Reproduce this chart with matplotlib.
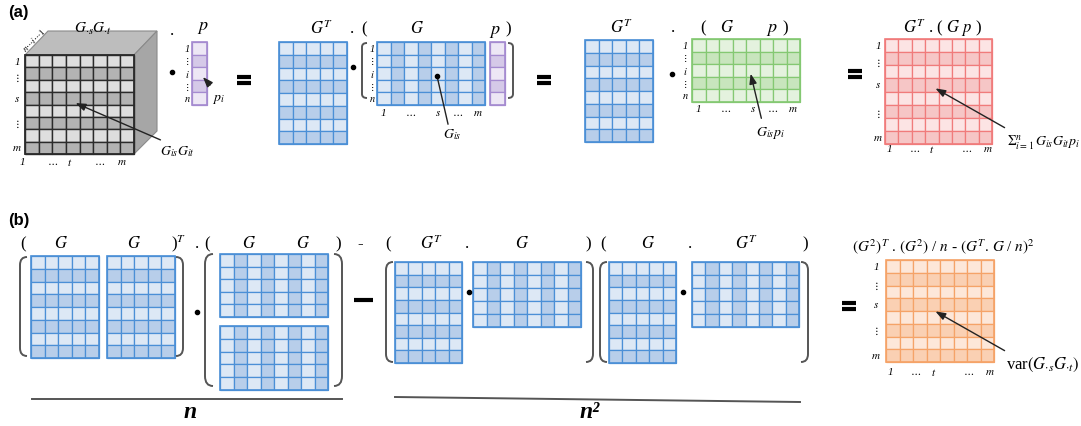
import numpy as np
import matplotlib
matplotlib.use("Agg")
import matplotlib.pyplot as plt
from matplotlib.patches import Rectangle, Polygon, PathPatch
from matplotlib.path import Path

plt.rcParams['font.family'] = 'serif'
plt.rcParams['font.serif'] = ['Liberation Serif', 'DejaVu Serif']
plt.rcParams['mathtext.fontset'] = 'stix'

# shading patterns (1 = darker cell)
rows8 = [0, 1, 0, 1, 0, 1, 0, 1]
cols8 = [0, 1, 0, 1, 0, 1, 0, 1]
rows5 = [0, 1, 0, 1, 0]
n_cols5 = 5

cube_shade = np.array([rows8] * 8).T          # 8 x 8, rows alternate
gt_shade = np.array([rows8] * n_cols5).T      # 8 x 5, rows alternate
g_shade = np.array([cols8] * 5)               # 5 x 8, columns alternate
p_shade = np.array([rows5]).T                 # 5 x 1
gp_shade = np.array([rows5] * 8).T            # 5 x 8, rows alternate
res_shade = np.array([rows8] * 8).T           # 8 x 8, rows alternate

# axis labels
rows_i = ['1', r'$\vdots$', '$i$', r'$\vdots$', '$n$']
rows_m = ['1', r'$\vdots$', '$s$', r'$\vdots$', '$m$']
cols_s = ['1', r'$\cdots$', '$s$', r'$\cdots$', '$m$']
cols_t = ['1', r'$\cdots$', '$t$', r'$\cdots$', '$m$']

# colours: (edge, light, dark)
GRAY = ('#2b2b2b', '#dedede', '#b3b3b3')
BLUE = ('#4b8fd6', '#dde8f5', '#b8ceea')
PURPLE = ('#a58bd0', '#ede7f5', '#d5c9e8')
GREEN = ('#84c872', '#e4f2de', '#c8e5bd')
RED = ('#f07b7b', '#fce4e4', '#f6c6c6')
ORANGE = ('#f5a368', '#fde7d9', '#fad0b3')

fig = plt.figure(figsize=(10.81, 4.27), dpi=100)
ax = fig.add_axes([0, 0, 1, 1])
ax.set_xlim(0, 1081)
ax.set_ylim(427, 0)
ax.axis('off')


def matrix(x0, y0, x1, y1, shade, colors, lw=0.9):
    edge, light, dark = colors
    nr, nc = shade.shape
    w = (x1 - x0) / nc
    h = (y1 - y0) / nr
    for r in range(nr):
        for c in range(nc):
            ax.add_patch(Rectangle((x0 + c * w, y0 + r * h), w, h,
                                   facecolor=dark if shade[r, c] else light,
                                   edgecolor=edge, lw=lw))
    ax.add_patch(Rectangle((x0, y0), x1 - x0, y1 - y0, fill=False,
                           edgecolor=edge, lw=lw + 0.3))


def row_labels(x, y0, y1, n, labels, idx, size=8):
    h = (y1 - y0) / n
    for lab, i in zip(labels, idx):
        ax.text(x, y0 + (i + 0.5) * h, lab, ha='center', va='center',
                fontsize=size, style='italic')


def col_labels(y, x0, x1, n, labels, idx, size=8):
    w = (x1 - x0) / n
    for lab, i in zip(labels, idx):
        ax.text(x0 + (i + 0.5) * w, y, lab, ha='center', va='center',
                fontsize=size, style='italic')


def bracket(x, y0, y1, side, w=7, r=8, lw=1.4, color='#555555'):
    if side == 'l':
        xo, xi = x + w, x
    else:
        xo, xi = x - w, x
    verts = [(xo, y0), (xi, y0), (xi, y0 + r), (xi, y1 - r), (xi, y1), (xo, y1)]
    codes = [Path.MOVETO, Path.CURVE3, Path.CURVE3, Path.LINETO,
             Path.CURVE3, Path.CURVE3]
    ax.add_patch(PathPatch(Path(verts, codes), fill=False, lw=lw,
                           edgecolor=color))


def txt(x, y, s, size=12, **kw):
    ax.text(x, y, s, ha='center', va='center', fontsize=size, **kw)


def equals(x, y):
    ax.plot([x - 7, x + 7], [y - 3, y - 3], color='black', lw=3,
            solid_capstyle='butt')
    ax.plot([x - 7, x + 7], [y + 3, y + 3], color='black', lw=3,
            solid_capstyle='butt')


def bullet(x, y):
    ax.plot(x, y, 'o', color='black', ms=3)


def arrow(tail, head, dot=False):
    if dot:
        ax.plot([tail[0], head[0]], [tail[1], head[1]], color='#222222', lw=1)
        ax.plot(*head, 'o', color='black', ms=3)
    else:
        ax.annotate('', xy=head, xytext=tail,
                    arrowprops=dict(arrowstyle='-|>,head_length=0.6,head_width=0.22',
                                    color='#222222', lw=1))


# ---------------- panel (a) ----------------
ax.text(8, 13, '(a)', fontsize=12, weight='bold', family='Liberation Sans',
        va='center')

# cube
ax.add_patch(Polygon([(25, 56), (48, 32), (157, 32), (134, 56)],
                     facecolor='#bdbdbd', edgecolor='#8a8a8a', lw=0.8))
ax.add_patch(Polygon([(134, 56), (157, 32), (157, 132), (134, 155)],
                     facecolor='#a6a6a6', edgecolor='#8a8a8a', lw=0.8))
matrix(25, 56, 134, 155, cube_shade, GRAY, lw=1.0)
txt(93, 29, r'$G_{\cdot s}G_{\cdot t}$', 11)
txt(34, 40, r'$n \cdots i \cdots 1$', 6.5, rotation=45)
row_labels(17, 56, 155, 8, rows_m, [0, 1.3, 3, 5, 7])
for x, lab in zip([22, 53, 70, 100, 122], cols_t):
    txt(x, 163, lab, 8, style='italic')
arrow((163, 142), (73, 103))
txt(177, 152, r'$G_{is}G_{it}$', 10)

txt(172, 31, '.', 12)
bullet(172, 73)
txt(203, 28, '$p$', 13)
matrix(192, 43, 207, 106, p_shade, PURPLE)
row_labels(187, 43, 106, 5, rows_i, [0, 1, 2, 3, 4], 7.5)
arrow((212, 88), (201, 76))
txt(218, 100, '$p_i$', 10)
equals(244, 81)

# G^T . (G p)
matrix(279, 43, 347, 145, gt_shade, BLUE)
txt(322, 29, '$G^T$', 12)
txt(352, 29, '.', 12)
txt(364, 29, '(', 12)
txt(417, 29, '$G$', 12)
txt(495, 31, '$p$', 13)
txt(508, 29, ')', 12)
bullet(353, 68)
bracket(362, 44, 99, 'l', w=5, r=4)
row_labels(372, 43, 106, 5, rows_i, [0, 1, 2, 3, 4], 7.5)
matrix(377, 43, 485, 106, g_shade, BLUE)
col_labels(113, 377, 485, 8, cols_s, [0, 2, 4, 5.5, 7])
arrow((448, 125), (437, 77), dot=True)
txt(452, 135, '$G_{is}$', 10)
matrix(490, 43, 505, 106, p_shade, PURPLE)
bracket(513, 44, 99, 'r', w=5, r=4)
equals(544, 81)

# G^T . (G p) with product computed
matrix(585, 41, 653, 143, gt_shade, BLUE)
txt(622, 28, '$G^T$', 12)
txt(673, 28, '.', 12)
txt(703, 28, '(', 12)
txt(727, 28, '$G$', 12)
txt(772, 30, '$p$', 13)
txt(785, 28, ')', 12)
bullet(672, 75)
row_labels(685, 40, 103, 5, rows_i, [0, 1, 2, 3, 4], 7.5)
matrix(692, 40, 800, 103, gp_shade, GREEN)
col_labels(110, 692, 800, 8, cols_s, [0, 2, 4, 5.5, 7])
arrow((762, 122), (750, 72))
txt(770, 133, '$G_{is}p_i$', 10)
equals(855, 75)

# result
matrix(885, 40, 992, 145, res_shade, RED)
txt(942, 28, '$G^T$ . ( $G$ $p$ )', 12)
row_labels(878, 40, 145, 8, rows_m, [0, 1.3, 3, 5.2, 7])
col_labels(150, 885, 992, 8, cols_t, [-0.2, 1.7, 3, 5.6, 7.2])
arrow((1007, 130), (933, 88))
txt(1043, 143, r'$\Sigma_{i=1}^{n}\, G_{is}G_{it}p_i$', 10)

# ---------------- panel (b) ----------------
ax.text(8, 221, '(b)', fontsize=12, weight='bold', family='Liberation Sans',
        va='center')

top = 244
for x, s in [(23, '('), (61, '$G$'), (134, '$G$'), (179, ')$^T$'),
             (197, '.'), (207, '('), (249, '$G$'), (303, '$G$'), (338, ')'),
             (360, '-'), (388, '('), (432, '$G^T$'), (467, '.'), (522, '$G$'),
             (588, ')'), (603, '('), (648, '$G$'), (690, '.'), (747, '$G^T$'),
             (805, ')')]:
    txt(x, top, s, 12)

bracket(20, 258, 357, 'l')
matrix(31, 257, 99, 359, gt_shade, BLUE)
matrix(107, 257, 175, 359, gt_shade, BLUE)
bracket(183, 258, 357, 'r')
bullet(197, 313)
bracket(205, 255, 387, 'l', w=8, r=10)
matrix(220, 255, 328, 318, g_shade, BLUE)
matrix(220, 327, 328, 391, g_shade, BLUE)
bracket(342, 255, 387, 'r', w=8, r=10)
ax.plot([354, 373], [301, 301], color='black', lw=3, solid_capstyle='butt')

bracket(386, 263, 363, 'l')
matrix(395, 263, 462, 364, gt_shade, BLUE)
bullet(469, 293)
matrix(473, 263, 581, 328, g_shade, BLUE)
bracket(593, 263, 363, 'r')
bracket(600, 263, 363, 'l')
matrix(609, 263, 676, 364, gt_shade, BLUE)
bullet(683, 293)
matrix(692, 263, 799, 328, g_shade, BLUE)
bracket(808, 263, 363, 'r')

ax.plot([32, 342], [400, 400], color='#555555', lw=1.4)
ax.text(190, 413, 'n', fontsize=17, style='italic', weight='bold',
        ha='center', va='center')
ax.plot([395, 800], [398, 403], color='#555555', lw=1.4)
ax.text(590, 413, 'n²', fontsize=17, style='italic', weight='bold',
        ha='center', va='center')

equals(849, 307)
txt(943, 247, r'$(G^2)^T$ . $(G^2)$ / $n$ - $(G^T$. $G$ / $n)^2$', 11)
matrix(886, 261, 994, 363, res_shade, ORANGE)
row_labels(876, 261, 363, 8, rows_m, [0, 1.5, 3, 5, 7])
col_labels(373, 886, 994, 8, cols_t, [-0.2, 1.7, 3, 5.6, 7.2])
arrow((1007, 353), (933, 311))
txt(1043, 365, r'var$\left(G_{\cdot s}G_{\cdot t}\right)$', 12)

fig.savefig('out.png', dpi=100)
